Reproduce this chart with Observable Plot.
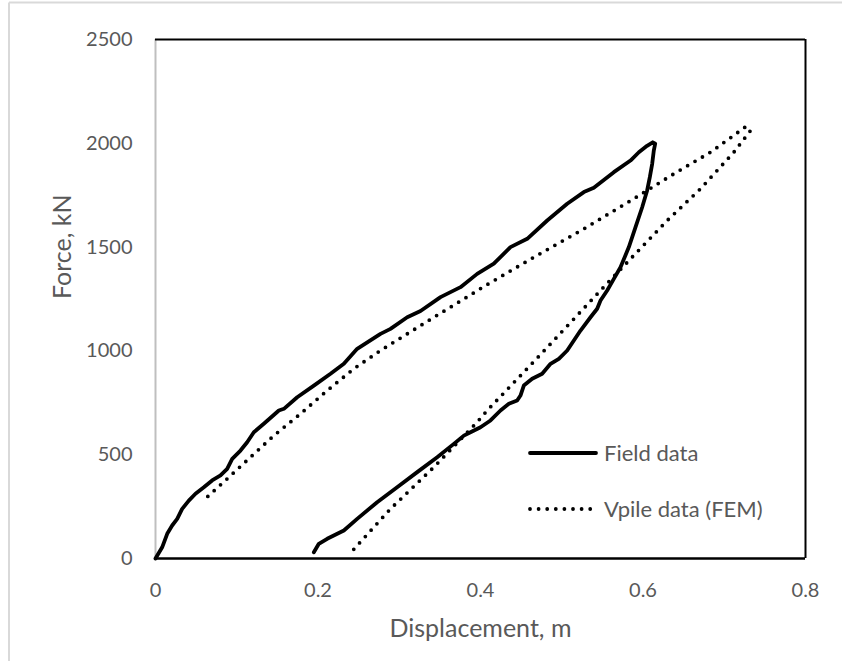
<!DOCTYPE html>
<html>
<head>
<meta charset="utf-8">
<script src="https://cdn.jsdelivr.net/npm/d3@7"></script>
<script src="https://cdn.jsdelivr.net/npm/@observablehq/plot@0.6"></script>
<style>
  html, body { margin: 0; padding: 0; background: #fff; }
  #chart { position: relative; width: 846px; height: 661px; }
</style>
</head>
<body>
<div id="chart"></div>
<script>
// ---- Data ----
const xTicks = [0, 0.2, 0.4, 0.6, 0.8];
const yTicks = [0, 500, 1000, 1500, 2000, 2500];
const seriesNames = ["Field data", "Vpile data (FEM)"];

// Field data: loading then unloading (displacement m, force kN)
const fieldX = [0, 0.0082, 0.0144, 0.0205, 0.0267, 0.0328, 0.041, 0.0492, 0.0595, 0.0697, 0.08, 0.0882, 0.0944, 0.1046, 0.1128, 0.121, 0.1333, 0.1518, 0.158, 0.1744, 0.1949, 0.2154, 0.2318, 0.2482, 0.2769, 0.2892, 0.3098, 0.3262, 0.3508, 0.3754, 0.3959, 0.4164, 0.4369, 0.4575, 0.4821, 0.5067, 0.5272, 0.5395, 0.5641, 0.5846, 0.5949, 0.605, 0.612, 0.615,
  0.6133, 0.6113, 0.6084, 0.6051, 0.599, 0.5908, 0.5826, 0.5723, 0.5641, 0.5559, 0.5477, 0.5436, 0.5354, 0.5231, 0.5149, 0.5067, 0.4964, 0.4862, 0.4759, 0.4636, 0.4533, 0.4492, 0.4451, 0.4349, 0.4246, 0.4123, 0.4, 0.3877, 0.3795, 0.3672, 0.3467, 0.3221, 0.2974, 0.2728, 0.2482, 0.2318, 0.2113, 0.201, 0.1949];
const fieldY = [0, 54, 119, 159, 191, 239, 279, 312, 343, 376, 400, 432, 480, 520, 560, 608, 649, 713, 721, 777, 833, 890, 938, 1010, 1082, 1106, 1162, 1192, 1259, 1307, 1371, 1420, 1500, 1540, 1628, 1709, 1765, 1786, 1861, 1917, 1957, 1988, 2005, 1998,
  1965, 1901, 1837, 1773, 1692, 1596, 1500, 1403, 1347, 1291, 1243, 1203, 1162, 1098, 1050, 1002, 962, 938, 890, 866, 833, 785, 761, 745, 713, 665, 632, 608, 592, 552, 488, 416, 343, 271, 191, 135, 95, 71, 30];

// Vpile data (FEM): loading then unloading
const vpileX = [0.0644, 0.0882, 0.1169, 0.1456, 0.1785, 0.2113, 0.2441, 0.2769, 0.3098, 0.3426, 0.3775, 0.4041, 0.4656, 0.5272, 0.5887, 0.638, 0.6831, 0.7265,
  0.7325, 0.7118, 0.6708, 0.6298, 0.5887, 0.5477, 0.4697, 0.4082, 0.3959, 0.3426, 0.2892, 0.24];
const vpileY = [299, 384, 488, 592, 697, 809, 914, 1002, 1082, 1162, 1245, 1310, 1451, 1588, 1733, 1853, 1957, 2080,
  2062, 1957, 1781, 1628, 1460, 1291, 965, 713, 657, 440, 239, 27];

const field = fieldX.map((x, i) => ({x, y: fieldY[i]}));
const vpile = vpileX.map((x, i) => ({x, y: vpileY[i]}));

const textColor = "#595959";
const font = "Lato, 'Open Sans', sans-serif";

const plot = Plot.plot({
  width: 846,
  height: 661,
  marginLeft: 155,
  marginRight: 41,
  marginTop: 39,
  marginBottom: 103,
  x: {domain: [0, 0.8]},
  y: {domain: [0, 2500]},
  style: {fontFamily: font, fontSize: "20px", color: textColor, background: "white", overflow: "visible"},
  marks: [
    Plot.ruleX([0], {stroke: "#bfbfbf", strokeWidth: 2}),
    Plot.ruleY([2500], {stroke: "black", strokeWidth: 2}),
    Plot.ruleX([0.8], {stroke: "black", strokeWidth: 2}),
    Plot.line(vpile, {x: "x", y: "y", stroke: "black", strokeWidth: 3.8, strokeDasharray: "0,8.6", strokeLinecap: "round", strokeLinejoin: "round"}),
    Plot.line(field, {x: "x", y: "y", stroke: "black", strokeWidth: 3.8, strokeLinecap: "round", strokeLinejoin: "round"}),
    Plot.ruleY([0], {stroke: "black", strokeWidth: 2.5}),
    Plot.axisX({ticks: xTicks, tickSize: 0, tickPadding: 24, label: null, tickFormat: d => String(d), fill: textColor}),
    Plot.axisY({ticks: yTicks, tickSize: 0, tickPadding: 23, label: null, tickFormat: d => String(d), fill: textColor}),
    Plot.text(["Displacement, m"], {text: d => d, frameAnchor: "bottom", dy: 70, lineAnchor: "middle", fontSize: 25, fill: textColor}),
    Plot.text(["Force, kN"], {text: d => d, frameAnchor: "left", dx: -93, rotate: -90, lineAnchor: "middle", fontSize: 25, fill: textColor})
  ]
});

document.getElementById("chart").appendChild(plot);

// Outer light-grey border (top and left edges visible in reference)
const svg = d3.select(plot);
svg.append("line").attr("x1", 9).attr("x2", 842).attr("y1", 2.5).attr("y2", 2.5)
  .attr("stroke", "#d9d9d9").attr("stroke-width", 2);
svg.append("line").attr("x1", 9).attr("x2", 9).attr("y1", 2.5).attr("y2", 661)
  .attr("stroke", "#d9d9d9").attr("stroke-width", 2);

// Legend
const lg = svg.append("g").attr("font-family", font).attr("font-size", 22)
  .attr("fill", textColor).attr("text-anchor", "start");
const legendRows = [
  {name: seriesNames[0], y: 453, dash: null, w: 3.8},
  {name: seriesNames[1], y: 509, dash: "0,8.6", w: 3.8}
];
legendRows.forEach(r => {
  const ln = lg.append("line").attr("x1", 530).attr("x2", 596).attr("y1", r.y).attr("y2", r.y)
    .attr("fill", "none").attr("stroke", "black").attr("stroke-width", r.w).attr("stroke-linecap", "round");
  if (r.dash) ln.attr("stroke-dasharray", r.dash);
  lg.append("text").attr("x", 604).attr("y", r.y).attr("dy", "0.35em")
    .attr("text-anchor", "start").text(r.name);
});
</script>
</body>
</html>
